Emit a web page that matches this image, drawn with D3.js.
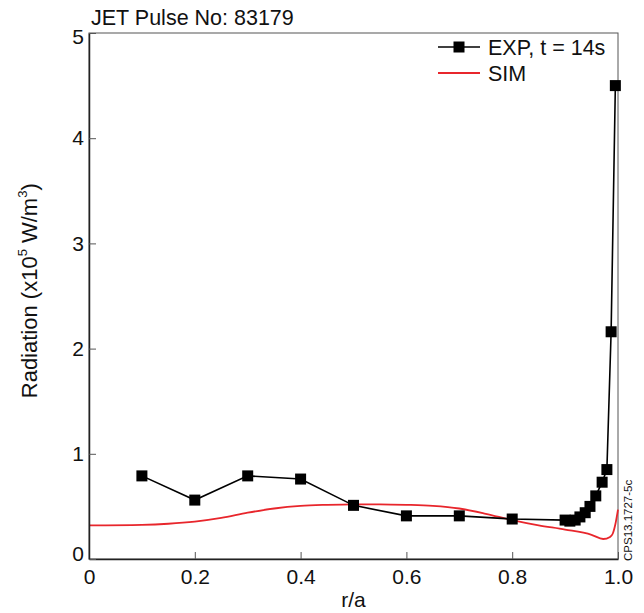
<!DOCTYPE html>
<html>
<head>
<meta charset="utf-8">
<script src="https://cdn.jsdelivr.net/npm/d3@7"></script>
<style>
  body { margin: 0; background: #fff; }
  text { font-family: "Liberation Sans", Arial, Helvetica, sans-serif; fill: #111; }
</style>
</head>
<body>
<div id="chart"></div>
<script>
// EXP measurements, t = 14s
const expR = [0.1, 0.2, 0.3, 0.4, 0.5, 0.6, 0.7, 0.8, 0.9, 0.909, 0.919, 0.928, 0.938, 0.947, 0.958, 0.97, 0.979, 0.987, 0.995];
const expV = [0.79, 0.56, 0.79, 0.76, 0.51, 0.41, 0.41, 0.38, 0.37, 0.36, 0.37, 0.40, 0.44, 0.50, 0.60, 0.73, 0.85, 2.16, 4.5];
// SIM profile
const simR = [0, 0.1, 0.15, 0.2, 0.25, 0.3, 0.35, 0.4, 0.45, 0.5, 0.55, 0.6, 0.65, 0.7, 0.75, 0.8, 0.85, 0.9, 0.95, 0.972, 0.985, 0.99, 0.995, 1.0];
const simV = [0.32, 0.325, 0.335, 0.355, 0.39, 0.44, 0.48, 0.505, 0.515, 0.52, 0.52, 0.515, 0.505, 0.48, 0.43, 0.37, 0.32, 0.28, 0.23, 0.19, 0.21, 0.24, 0.33, 0.47];

const xTicks = [0, 0.2, 0.4, 0.6, 0.8, 1.0];
const yTicks = [0, 1, 2, 3, 4, 5];

const width = 644, height = 613;
const margin = {top: 33, right: 26, bottom: 54, left: 89};

const svg = d3.select('#chart').append('svg')
  .attr('width', width)
  .attr('height', height);

const x = d3.scaleLinear().domain([0, 1]).range([margin.left, width - margin.right]);
const y = d3.scaleLinear().domain([0, 5]).range([height - margin.bottom, margin.top]);

const plot = svg.append('g');

// frame
plot.append('rect')
  .attr('x', x(0)).attr('y', y(5))
  .attr('width', x(1) - x(0)).attr('height', y(0) - y(5))
  .attr('fill', 'none').attr('stroke', '#555').attr('stroke-width', 1);

// axes, ticks pointing inward
const xAxis = svg.append('g')
  .attr('transform', 'translate(0,' + y(0) + ')')
  .call(d3.axisBottom(x).tickValues(xTicks).tickSizeInner(-7).tickSizeOuter(0).tickPadding(6)
    .tickFormat(function(d) { return d === 0 ? '0' : d3.format('.1f')(d); }));
xAxis.select('.domain').attr('stroke', '#222').attr('stroke-width', 1.5);
xAxis.selectAll('.tick line').attr('stroke', '#555');
xAxis.selectAll('.tick text').attr('font-size', 21).attr('dy', '0.92em');

const yAxis = svg.append('g')
  .attr('transform', 'translate(' + x(0) + ',0)')
  .call(d3.axisLeft(y).tickValues(yTicks).tickSizeInner(-7).tickSizeOuter(0).tickPadding(5)
    .tickFormat(d3.format('d')));
yAxis.select('.domain').attr('stroke', '#222').attr('stroke-width', 1.5);
yAxis.selectAll('.tick line').attr('stroke', '#555');
yAxis.selectAll('.tick text').attr('font-size', 21).attr('dy', '0.32em');
yAxis.selectAll('.tick text').filter(function(d) { return d === 0; }).attr('dy', '0.05em');
yAxis.selectAll('.tick text').filter(function(d) { return d === 5; }).attr('dy', '0.5em');

// SIM line
const simData = simR.map(function(r, i) { return {r: r, v: simV[i]}; });
plot.append('path')
  .datum(simData)
  .attr('fill', 'none')
  .attr('stroke', '#e8262c')
  .attr('stroke-width', 1.8)
  .attr('d', d3.line().x(function(d) { return x(d.r); }).y(function(d) { return y(d.v); }).curve(d3.curveMonotoneX));

// EXP line + markers
const expData = expR.map(function(r, i) { return {r: r, v: expV[i]}; });
plot.append('path')
  .datum(expData)
  .attr('fill', 'none')
  .attr('stroke', '#000')
  .attr('stroke-width', 1.6)
  .attr('d', d3.line().x(function(d) { return x(d.r); }).y(function(d) { return y(d.v); }));

const sq = 11;
plot.selectAll('rect.mk')
  .data(expData)
  .enter()
  .append('rect')
  .attr('class', 'mk')
  .attr('x', function(d) { return x(d.r) - sq / 2; })
  .attr('y', function(d) { return y(d.v) - sq / 2; })
  .attr('width', sq).attr('height', sq)
  .attr('fill', '#000');

// title
svg.append('text')
  .attr('x', 91).attr('y', 25)
  .attr('font-size', 21.5)
  .text('JET Pulse No: 83179');

// axis titles
svg.append('text')
  .attr('x', x(0.5)).attr('y', 607)
  .attr('text-anchor', 'middle')
  .attr('font-size', 21)
  .text('r/a');

const yl = svg.append('text')
  .attr('transform', 'translate(37,' + y(2.55) + ') rotate(-90)')
  .attr('text-anchor', 'middle')
  .attr('font-size', 22);
yl.append('tspan').text('Radiation (x10');
yl.append('tspan').attr('font-size', 13).attr('dy', -10).text('5');
yl.append('tspan').attr('dy', 10).text(' W/m');
yl.append('tspan').attr('font-size', 13).attr('dy', -10).text('3');
yl.append('tspan').attr('dy', 10).text(')');

// legend
const lg = svg.append('g');
lg.append('line').attr('x1', 438).attr('x2', 480).attr('y1', 47).attr('y2', 47)
  .attr('stroke', '#000').attr('stroke-width', 1.6);
lg.append('rect').attr('x', 459 - sq / 2).attr('y', 47 - sq / 2).attr('width', sq).attr('height', sq).attr('fill', '#000');
lg.append('text').attr('x', 488).attr('y', 55).attr('font-size', 21.5).text('EXP, t = 14s');
lg.append('line').attr('x1', 438).attr('x2', 480).attr('y1', 73).attr('y2', 73)
  .attr('stroke', '#e8262c').attr('stroke-width', 1.8);
lg.append('text').attr('x', 488).attr('y', 81).attr('font-size', 21.5).text('SIM');

// figure id
svg.append('text')
  .attr('transform', 'translate(632,561) rotate(-90)')
  .attr('font-size', 11.5)
  .text('CPS13.1727-5c');
</script>
</body>
</html>
